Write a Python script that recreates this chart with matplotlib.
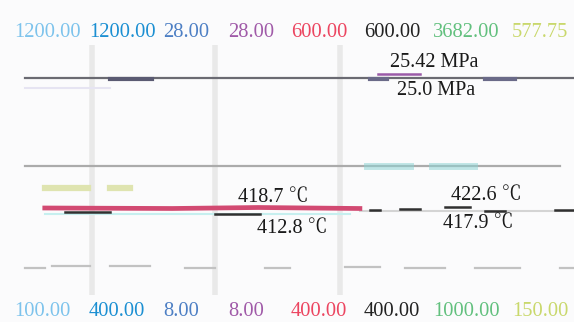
import matplotlib
matplotlib.use("Agg")
import matplotlib.pyplot as plt
import matplotlib.transforms as mtransforms

plt.rcParams['font.family'] = ['Liberation Serif', 'Noto Serif CJK SC', 'DejaVu Serif']

# ---- data -------------------------------------------------------------
scale_top = ["1200.00", "1200.00", "28.00", "28.00", "600.00", "600.00", "3682.00", "577.75"]
scale_bottom = ["100.00", "400.00", "8.00", "8.00", "400.00", "400.00", "1000.00", "150.00"]
scale_colors = ["#7dc3ec", "#1b8fd2", "#4d7fc4", "#a05aa8", "#ec4560", "#222222", "#62c07e", "#c9d86c"]
scale_pos = [2.44, 15.5, 28.4, 39.7, 50.7, 63.4, 75.4, 89.2]   # time position of each scale label

# trend lines, time (0-100) and value in % of span
p_main_t = [4.4, 100.0];   p_main_v = [86.8, 86.8]
p_dark_t = [19.2, 26.5];   p_dark_v = [86.6, 86.6]
p_dark2_t = [84.5, 89.7];  p_dark2_v = [86.6, 86.6]
p_dark3_t = [64.5, 67.5];  p_dark3_v = [86.6, 86.6]
p_purple_t = [65.9, 73.2]; p_purple_v = [88.4, 88.4]
p_lav_t = [4.4, 19.2];     p_lav_v = [82.8, 82.8]

g_t = [4.4, 97.6];         g_v = [51.6, 51.6]
teal_t = [[64.0, 71.4], [75.3, 82.6]]; teal_v = [51.6, 51.6]

yg_t = [[7.8, 15.3], [19.2, 22.6]]; yg_v = [42.8, 42.8]

red_t = [7.8, 30.0, 45.0, 62.7]; red_v = [34.8, 34.6, 35.0, 34.6]
cyan_t = [7.8, 61.0];      cyan_v = [32.6, 32.6]

blk_t = [[11.3, 19.2], [37.5, 45.3], [64.5, 66.2], [69.7, 73.2], [77.5, 81.9], [84.5, 88.0], [96.7, 100.0]]
blk_v = [33.2, 32.4, 34.0, 34.4, 35.2, 33.6, 34.0]
gr2_t = [62.7, 100.0];     gr2_v = [33.6, 33.6]

dash_t = [[4.4, 7.8], [9.0, 15.7], [19.2, 26.1], [32.2, 37.5], [46.2, 50.5],
          [60.1, 66.2], [70.6, 77.5], [82.8, 90.6], [97.6, 100.0]]
dash_v = [10.8, 11.6, 11.6, 10.8, 10.8, 11.2, 10.8, 10.8, 10.8]

vbar_t = [16.0, 37.5, 59.2]

notes = ["25.42 MPa", "25.0 MPa", "418.7 ℃", "412.8 ℃", "422.6 ℃", "417.9 ℃"]
notes_t = [75.6, 76.0, 47.6, 50.9, 84.8, 83.4]
notes_v = [91.2, 80.0, 37.2, 24.8, 38.0, 26.8]

# ---- figure -----------------------------------------------------------
fig = plt.figure(figsize=(5.74, 3.22), dpi=100, facecolor="#fbfbfc")
ax = fig.add_axes([0.0, (322 - 295) / 322, 1.0, 250 / 322])
ax.set_facecolor("#fbfbfc")
ax.set_xlim(0, 100)
ax.set_ylim(0, 100)
ax.axis("off")

for t in vbar_t:
    ax.axvline(t, ymin=0.0, ymax=1.0, color="#d4d4d4", lw=4, alpha=0.45, zorder=1)

ax.plot(p_lav_t, p_lav_v, color="#e6e4f2", lw=1.5, zorder=2)
ax.plot(p_main_t, p_main_v, color="#6a6a72", lw=1.6, zorder=3)
ax.plot(p_dark_t, p_dark_v, color="#5a5a72", lw=3.0, zorder=4)
ax.plot(p_dark2_t, p_dark2_v, color="#6a6a88", lw=3.0, zorder=4)
ax.plot(p_dark3_t, p_dark3_v, color="#6a6a88", lw=3.0, zorder=4)
ax.plot(p_purple_t, p_purple_v, color="#9a5aa8", lw=1.8, zorder=4)

ax.plot(g_t, g_v, color="#ababab", lw=1.6, zorder=3)
for seg in teal_t:
    ax.plot(seg, teal_v, color="#8fd4d4", lw=5, alpha=0.55, zorder=4)

for seg in yg_t:
    ax.plot(seg, yg_v, color="#dfe4b0", lw=4.5, zorder=3)

ax.plot(cyan_t, cyan_v, color="#c6efef", lw=1.5, zorder=3)
ax.plot(red_t, red_v, color="#d24a72", lw=3.4, zorder=4)
ax.plot(gr2_t, gr2_v, color="#d4d4d4", lw=1.5, zorder=3)
for seg, v in zip(blk_t, blk_v):
    ax.plot(seg, [v, v], color="#303030", lw=1.8, zorder=5)

for seg, v in zip(dash_t, dash_v):
    ax.plot(seg, [v, v], color="#c2c2c2", lw=1.6, zorder=3)

for s, t, v in zip(notes, notes_t, notes_v):
    ax.text(t, v, s, ha="center", va="baseline", fontsize=14.5, color="#1a1a1a", zorder=6)

trans = mtransforms.blended_transform_factory(ax.transData, fig.transFigure)
for lab, t, c in zip(scale_top, scale_pos, scale_colors):
    ax.text(t, 1 - 37 / 322, lab, transform=trans, ha="left", va="baseline",
            fontsize=14.8, color=c, clip_on=False)
for lab, t, c in zip(scale_bottom, scale_pos, scale_colors):
    ax.text(t, 1 - 316 / 322, lab, transform=trans, ha="left", va="baseline",
            fontsize=14.8, color=c, clip_on=False)

fig.savefig("out.png", dpi=100, facecolor=fig.get_facecolor())
